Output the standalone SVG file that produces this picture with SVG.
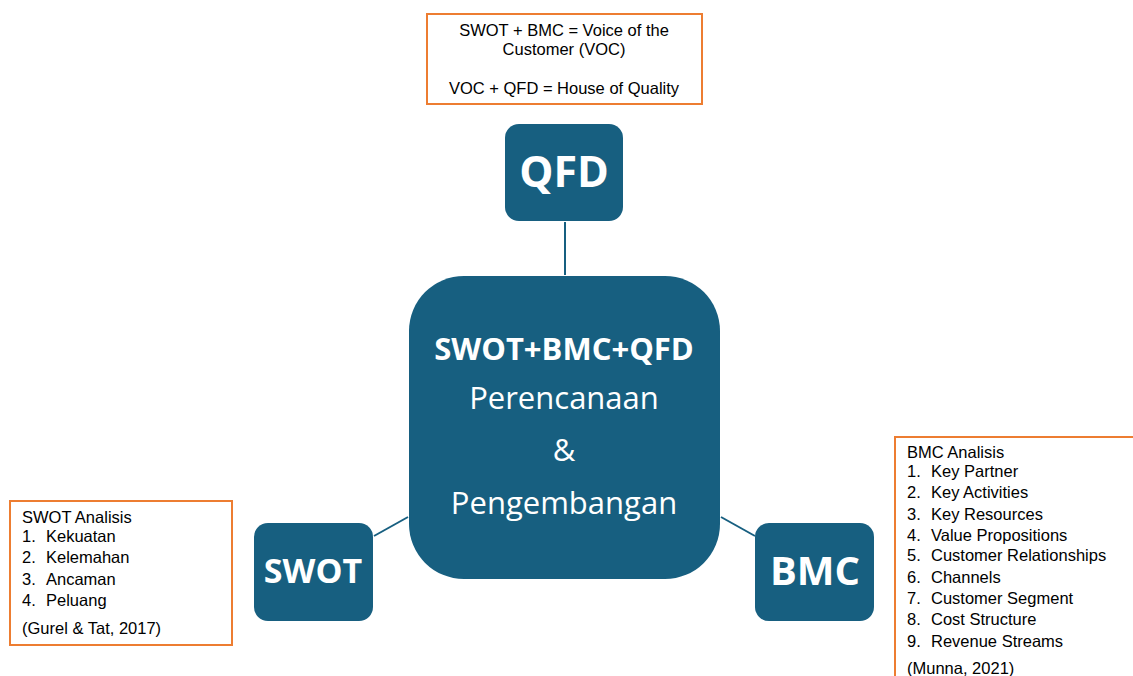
<svg xmlns="http://www.w3.org/2000/svg" width="1133" height="676" viewBox="0 0 1133 676">
<style>
.node{fill:#175F80}
.note{fill:#fff;stroke:#ED7D31;stroke-width:2}
.conn{stroke:#175F80;stroke-width:2;fill:none}
.lbl{font-family:"Open Sans","Liberation Sans",sans-serif;font-weight:bold;fill:#fff;text-anchor:middle}
.ctr{font-family:"Open Sans","Liberation Sans",sans-serif;fill:#fff;text-anchor:middle;font-size:31px}
.t{font-family:"Liberation Sans",Arial,sans-serif;font-size:16.5px;fill:#000}
.tc{font-family:"Liberation Sans",Arial,sans-serif;font-size:16.5px;fill:#000;text-anchor:middle}
</style>
<rect width="1133" height="676" fill="#fff"/>
<g id="connectors">
<line class="conn" x1="565" y1="222" x2="565" y2="275"/>
<line class="conn" x1="374" y1="536" x2="408" y2="517"/>
<line class="conn" x1="721" y1="517" x2="755" y2="536"/>
</g>
<g id="note-top">
<rect class="note" x="427" y="14" width="275" height="90"/>
<text class="tc" x="564" y="36">SWOT + BMC = Voice of the</text>
<text class="tc" x="564" y="55">Customer (VOC)</text>
<text class="tc" x="564" y="94">VOC + QFD = House of Quality</text>
</g>
<g id="qfd">
<rect class="node" x="505" y="124" width="118" height="97" rx="14"/>
<text class="lbl" x="564" y="187" font-size="43">QFD</text>
</g>
<g id="center">
<rect class="node" x="409" y="276" width="311" height="303" rx="55"/>
<text class="ctr" x="564" y="360" font-weight="bold" font-size="33">SWOT+BMC+QFD</text>
<text class="ctr" x="564" y="409">Perencanaan</text>
<text class="ctr" x="564" y="461">&amp;</text>
<text class="ctr" x="564" y="514">Pengembangan</text>
</g>
<g id="swot">
<rect class="node" x="254" y="523" width="119" height="98" rx="14"/>
<text class="lbl" x="313" y="583" font-size="34">SWOT</text>
</g>
<g id="bmc">
<rect class="node" x="755" y="523" width="119" height="98" rx="14"/>
<text class="lbl" x="815" y="585" font-size="40">BMC</text>
</g>
<g id="note-swot">
<rect class="note" x="10" y="501" width="222" height="144"/>
<text class="t" x="22" y="523">SWOT Analisis</text>
<text class="t" x="22" y="542">1.</text><text class="t" x="46" y="542">Kekuatan</text>
<text class="t" x="22" y="563">2.</text><text class="t" x="46" y="563">Kelemahan</text>
<text class="t" x="22" y="585">3.</text><text class="t" x="46" y="585">Ancaman</text>
<text class="t" x="22" y="606">4.</text><text class="t" x="46" y="606">Peluang</text>
<text class="t" x="22" y="634">(Gurel &amp; Tat, 2017)</text>
</g>
<g id="note-bmc">
<rect class="note" x="895" y="437" width="250" height="260"/>
<text class="t" x="907" y="458">BMC Analisis</text>
<text class="t" x="907" y="477">1.</text><text class="t" x="931" y="477">Key Partner</text>
<text class="t" x="907" y="498">2.</text><text class="t" x="931" y="498">Key Activities</text>
<text class="t" x="907" y="520">3.</text><text class="t" x="931" y="520">Key Resources</text>
<text class="t" x="907" y="541">4.</text><text class="t" x="931" y="541">Value Propositions</text>
<text class="t" x="907" y="561">5.</text><text class="t" x="931" y="561">Customer Relationships</text>
<text class="t" x="907" y="583">6.</text><text class="t" x="931" y="583">Channels</text>
<text class="t" x="907" y="604">7.</text><text class="t" x="931" y="604">Customer Segment</text>
<text class="t" x="907" y="625">8.</text><text class="t" x="931" y="625">Cost Structure</text>
<text class="t" x="907" y="647">9.</text><text class="t" x="931" y="647">Revenue Streams</text>
<text class="t" x="907" y="674">(Munna, 2021)</text>
</g>
</svg>
